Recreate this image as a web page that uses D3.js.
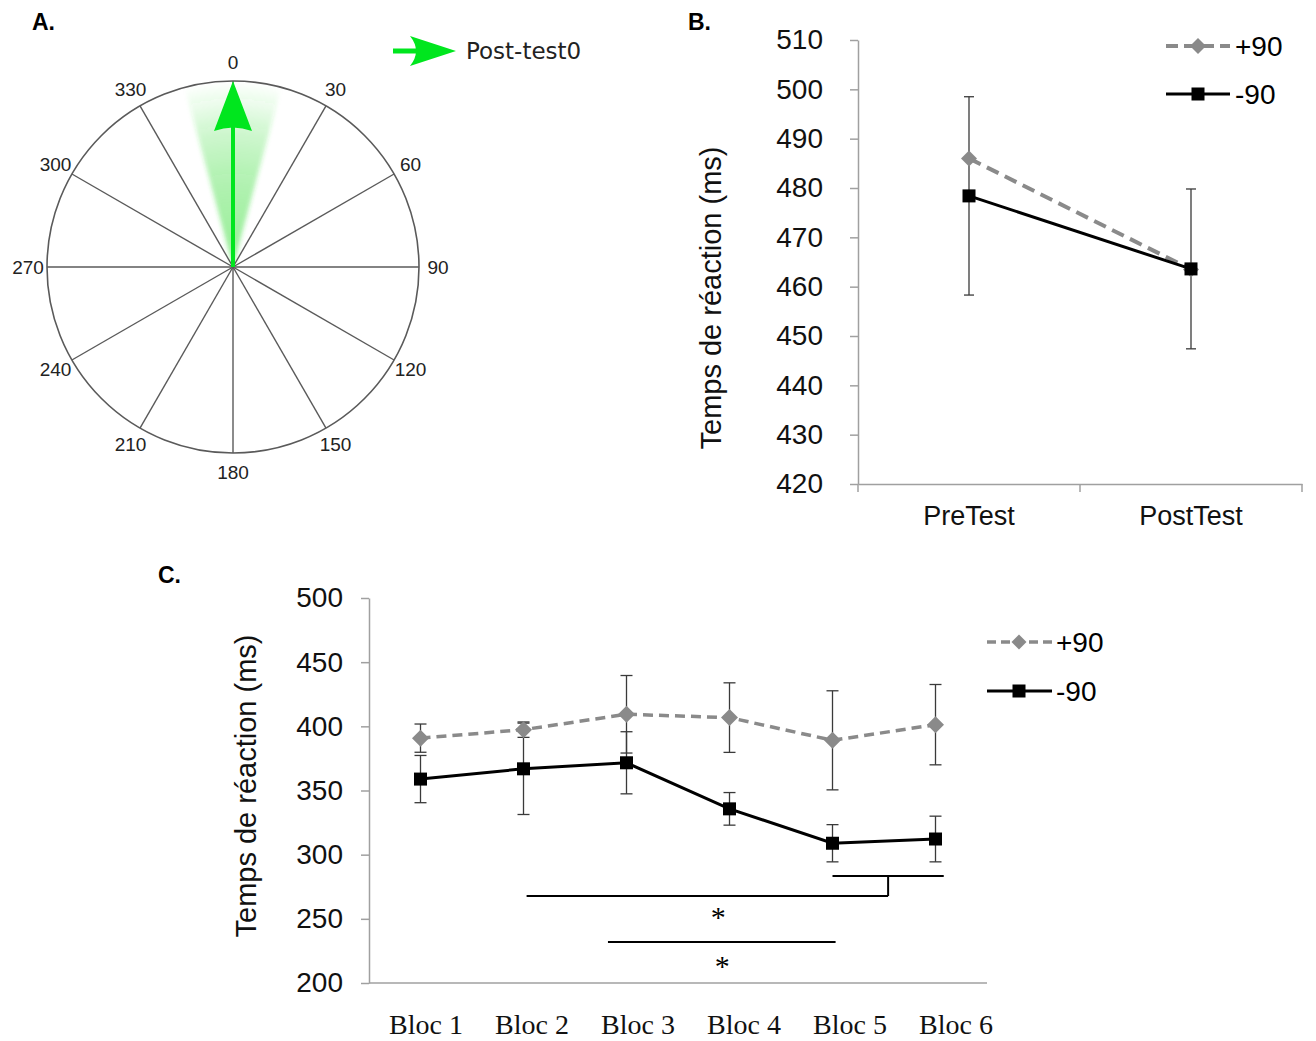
<!DOCTYPE html>
<html><head><meta charset="utf-8">
<script src="https://cdn.jsdelivr.net/npm/d3@7"></script>
<style>body{margin:0;background:#fff}svg{display:block}</style>
</head><body>
<svg id="c" width="1316" height="1041"></svg>
<script>
// ---------- DATA ----------
// Panel A
const polarAngles = [0,30,60,90,120,150,180,210,240,270,300,330];
const arrowAngle = 0;          // mean direction (deg)
const arrowSpread = 15;        // angular spread of shaded fan (deg)
const legendA = "Post-test0";
// Panel B
const conditionsB = ["PreTest","PostTest"];
const plus90B = [486.0, 463.5];
const minus90B = [478.4, 463.6];
const minus90ErrB = [20.1, 16.2];
const yTicksB = [420,430,440,450,460,470,480,490,500,510];
// Panel C
const blocs = ["Bloc 1","Bloc 2","Bloc 3","Bloc 4","Bloc 5","Bloc 6"];
const plus90C = [390.8, 397.4, 409.4, 406.8, 389.1, 401.3];
const plus90ErrC = [11.0, 6.0, 30.2, 27.1, 38.6, 31.3];
const minus90C = [358.9, 366.9, 371.6, 335.7, 308.9, 312.2];
const minus90ErrC = [18.4, 35.6, 24.2, 12.7, 14.5, 17.8];
const yTicksC = [200,250,300,350,400,450,500];
const seriesNames = ["+90","-90"];
// significance brackets: [fromIndex, toIndex, value]
const sigHLines = [[4.0, 5.08, 283.3],[1.03, 4.54, 267.8],[1.82, 4.03, 231.9]];
const sigVLines = [[4.54, 283.3, 267.8]];
const sigStars = [[2.89, 254.5],[2.93, 216.4]];

// ---------- STYLE ----------
const sans = "'Liberation Sans', Arial, sans-serif";
const serif = "'Liberation Serif', 'Times New Roman', serif";
const grayS = "#8a8a8a", axisCol = "#a0a0a0", errCol = "#3a3a3a";

const svg = d3.select("#c");

// panel letters
[["A.",32,30],["B.",688,30],["C.",158,583]].forEach(([t,x,y])=>{
  svg.append("text").attr("x",x).attr("y",y).text(t)
    .style("font-family",sans).style("font-weight","bold").style("font-size","23px");
});

// ---------- PANEL A ----------
(function(){
  const cx=233, cy=267, R=186;
  const g = svg.append("g").attr("transform",`translate(${cx},${cy})`);
  const rad = d3.scaleLinear().domain([0,360]).range([0,2*Math.PI]);
  const defs = svg.append("defs");
  const grad = defs.append("radialGradient").attr("id","fan")
    .attr("gradientUnits","userSpaceOnUse").attr("cx",0).attr("cy",0).attr("r",R);
  [[0,0.5],[0.45,0.38],[0.72,0.24],[0.9,0.08],[1,0]].forEach(([o,a])=>
    grad.append("stop").attr("offset",o).attr("stop-color","#2fdc2f").attr("stop-opacity",a));
  defs.append("filter").attr("id","blur").attr("x","-50%").attr("y","-50%").attr("width","200%").attr("height","200%")
    .append("feGaussianBlur").attr("stdDeviation",2);
  const arc = d3.arc().innerRadius(0).outerRadius(R-2)
    .startAngle(rad(arrowAngle-arrowSpread)).endAngle(rad(arrowAngle+arrowSpread));
  g.append("path").attr("d",arc()).attr("fill","url(#fan)").attr("filter","url(#blur)");
  // spokes
  g.selectAll("line.sp").data(polarAngles).join("line")
    .attr("x1",0).attr("y1",0)
    .attr("x2",d=>R*Math.sin(rad(d))).attr("y2",d=>-R*Math.cos(rad(d)))
    .attr("stroke","#5a5a5a").attr("stroke-width",1.4);
  g.append("circle").attr("r",R).attr("fill","none").attr("stroke","#5a5a5a").attr("stroke-width",1.6);
  // labels
  g.selectAll("text.lb").data(polarAngles).join("text")
    .attr("x",d=>205*Math.sin(rad(d))).attr("y",d=>-205*Math.cos(rad(d)))
    .attr("text-anchor","middle").attr("dominant-baseline","central")
    .style("font-family",sans).style("font-size","19px").attr("fill","#222").text(d=>d);
  // arrow
  const green="#00e61e";
  const ag = g.append("g").attr("transform",`rotate(${arrowAngle})`);
  ag.append("line").attr("x1",0).attr("y1",0).attr("x2",0).attr("y2",-R+40)
    .attr("stroke",green).attr("stroke-width",4);
  ag.append("path").attr("d",`M0,${-R} L19,${-R+50} Q0,${-R+43} -19,${-R+50} Z`).attr("fill",green);
  // legend
  const lg = svg.append("g");
  lg.append("line").attr("x1",393).attr("x2",425).attr("y1",51).attr("y2",51).attr("stroke",green).attr("stroke-width",5);
  lg.append("path").attr("d","M456,51 L410,36 Q422,51 410,66 Z").attr("fill",green);
  lg.append("text").attr("x",466).attr("y",59).text(legendA)
    .style("font-family","'DejaVu Sans', Verdana, sans-serif").style("font-size","23px").attr("fill","#222");
})();

// ---------- helpers ----------
function diamond(sel, x, y, s, col){
  sel.append("path").attr("d",`M${x},${y-s} L${x+s},${y} L${x},${y+s} L${x-s},${y} Z`).attr("fill",col);
}
function square(sel, x, y, s, col){
  sel.append("rect").attr("x",x-s).attr("y",y-s).attr("width",2*s).attr("height",2*s).attr("fill",col);
}
function styleAxis(g, fam, size){
  g.selectAll(".domain").attr("stroke",axisCol).attr("stroke-width",1.5);
  g.selectAll(".tick line").attr("stroke",axisCol).attr("stroke-width",1.5);
  g.selectAll("text").style("font-family",fam).style("font-size",size+"px").attr("fill","#111");
}

// ---------- PANEL B ----------
(function(){
  const x0=858, x1=1302, yT=40, yB=484;
  const x = d3.scaleBand().domain(conditionsB).range([x0,x1]);
  const y = d3.scaleLinear().domain([420,510]).range([yB,yT]);
  const cxp = d => x(d)+x.bandwidth()/2;
  const ya = svg.append("g").attr("transform",`translate(${x0},0)`)
    .call(d3.axisLeft(y).tickValues(yTicksB).tickSize(8).tickSizeOuter(0).tickPadding(27));
  styleAxis(ya, sans, 28);
  const xa = svg.append("g").attr("transform",`translate(0,${yB})`)
    .call(d3.axisBottom(x).tickSize(0).tickPadding(22));
  styleAxis(xa, sans, 27);
  // boundary ticks
  const bounds = conditionsB.map(d=>x(d)).concat([x1]);
  svg.selectAll("line.bt").data(bounds).join("line")
    .attr("x1",d=>d).attr("x2",d=>d).attr("y1",yB).attr("y2",yB+8)
    .attr("stroke",axisCol).attr("stroke-width",1.5);
  // title
  svg.append("text").attr("transform",`translate(721,298) rotate(-90)`)
    .attr("text-anchor","middle").text("Temps de réaction (ms)")
    .style("font-family",sans).style("font-size","29px").attr("fill","#111");
  // error bars (-90)
  const eg = svg.append("g");
  conditionsB.forEach((c,i)=>{
    const xc=cxp(c), hi=y(minus90B[i]+minus90ErrB[i]), lo=y(minus90B[i]-minus90ErrB[i]);
    eg.append("line").attr("x1",xc).attr("x2",xc).attr("y1",hi).attr("y2",lo).attr("stroke",errCol).attr("stroke-width",1.3);
    [hi,lo].forEach(v=>eg.append("line").attr("x1",xc-5).attr("x2",xc+5).attr("y1",v).attr("y2",v).attr("stroke",errCol).attr("stroke-width",1.3));
  });
  const line = d3.line().x((d,i)=>cxp(conditionsB[i])).y(d=>y(d));
  svg.append("path").datum(plus90B).attr("d",line).attr("fill","none").attr("stroke",grayS)
    .attr("stroke-width",4).attr("stroke-dasharray","13,7");
  svg.append("path").datum(minus90B).attr("d",line).attr("fill","none").attr("stroke","#000").attr("stroke-width",3);
  plus90B.forEach((v,i)=>diamond(svg,cxp(conditionsB[i]),y(v),8,grayS));
  minus90B.forEach((v,i)=>square(svg,cxp(conditionsB[i]),y(v),6.5,"#000"));
  // legend
  const L = svg.append("g");
  L.append("line").attr("x1",1166).attr("x2",1230).attr("y1",46).attr("y2",46).attr("stroke",grayS).attr("stroke-width",4).attr("stroke-dasharray","12,6");
  diamond(L,1198,46,8,grayS);
  L.append("line").attr("x1",1166).attr("x2",1230).attr("y1",94).attr("y2",94).attr("stroke","#000").attr("stroke-width",3);
  square(L,1198,94,6.5,"#000");
  L.append("text").attr("x",1235).attr("y",56).text(seriesNames[0]).style("font-family",sans).style("font-size","28px");
  L.append("text").attr("x",1235).attr("y",104).text(seriesNames[1]).style("font-family",sans).style("font-size","28px");
})();

// ---------- PANEL C ----------
(function(){
  const x0=369, x1=987, yT=598, yB=983;
  const xi = d3.scaleLinear().domain([-0.5,5.5]).range([x0,x1]);
  const y = d3.scaleLinear().domain([200,500]).range([yB,yT]);
  const xl = d3.scaleBand().domain(blocs).range([373,1009]);
  const ya = svg.append("g").attr("transform",`translate(${x0},0)`)
    .call(d3.axisLeft(y).tickValues(yTicksC).tickSize(8).tickSizeOuter(0).tickPadding(18));
  styleAxis(ya, sans, 28);
  svg.append("line").attr("x1",x0).attr("x2",x1).attr("y1",yB).attr("y2",yB).attr("stroke",axisCol).attr("stroke-width",1.5);
  const xa = svg.append("g").attr("transform",`translate(0,${yB})`)
    .call(d3.axisBottom(xl).tickSize(0).tickPadding(31));
  xa.select(".domain").remove();
  xa.selectAll("text").style("font-family",serif).style("font-size","28px").attr("fill","#111");
  svg.append("text").attr("transform",`translate(256,786) rotate(-90)`)
    .attr("text-anchor","middle").text("Temps de réaction (ms)")
    .style("font-family",sans).style("font-size","29px").attr("fill","#111");
  // error bars
  const eg = svg.append("g");
  function err(vals, errs){
    vals.forEach((v,i)=>{
      const xc=xi(i), hi=y(v+errs[i]), lo=y(v-errs[i]);
      eg.append("line").attr("x1",xc).attr("x2",xc).attr("y1",hi).attr("y2",lo).attr("stroke",errCol).attr("stroke-width",1.3);
      [hi,lo].forEach(q=>eg.append("line").attr("x1",xc-6).attr("x2",xc+6).attr("y1",q).attr("y2",q).attr("stroke",errCol).attr("stroke-width",1.3));
    });
  }
  err(plus90C, plus90ErrC);
  err(minus90C, minus90ErrC);
  const line = d3.line().x((d,i)=>xi(i)).y(d=>y(d));
  svg.append("path").datum(plus90C).attr("d",line).attr("fill","none").attr("stroke",grayS)
    .attr("stroke-width",3.5).attr("stroke-dasharray","10,6");
  svg.append("path").datum(minus90C).attr("d",line).attr("fill","none").attr("stroke","#000").attr("stroke-width",3);
  plus90C.forEach((v,i)=>diamond(svg,xi(i),y(v),8.5,grayS));
  minus90C.forEach((v,i)=>square(svg,xi(i),y(v),6.5,"#000"));
  // significance
  const sg = svg.append("g").attr("stroke","#000").attr("stroke-width",2);
  sigHLines.forEach(([a,b,v])=>sg.append("line").attr("x1",xi(a)).attr("x2",xi(b)).attr("y1",y(v)).attr("y2",y(v)));
  sigVLines.forEach(([a,v1,v2])=>sg.append("line").attr("x1",xi(a)).attr("x2",xi(a)).attr("y1",y(v1)).attr("y2",y(v2)));
  sigStars.forEach(([a,v])=>svg.append("text").attr("x",xi(a)).attr("y",y(v)).attr("dy","0.47em")
    .attr("text-anchor","middle").text("*").style("font-family",serif).style("font-size","30px"));
  // legend
  const L = svg.append("g");
  L.append("line").attr("x1",987).attr("x2",1052).attr("y1",642).attr("y2",642).attr("stroke",grayS).attr("stroke-width",3.5).attr("stroke-dasharray","9,5");
  diamond(L,1019,642,7.5,grayS);
  L.append("line").attr("x1",987).attr("x2",1052).attr("y1",691).attr("y2",691).attr("stroke","#000").attr("stroke-width",3);
  square(L,1019,691,6.5,"#000");
  L.append("text").attr("x",1056).attr("y",652).text(seriesNames[0]).style("font-family",sans).style("font-size","28px");
  L.append("text").attr("x",1056).attr("y",701).text(seriesNames[1]).style("font-family",sans).style("font-size","28px");
})();
</script>
</body></html>
